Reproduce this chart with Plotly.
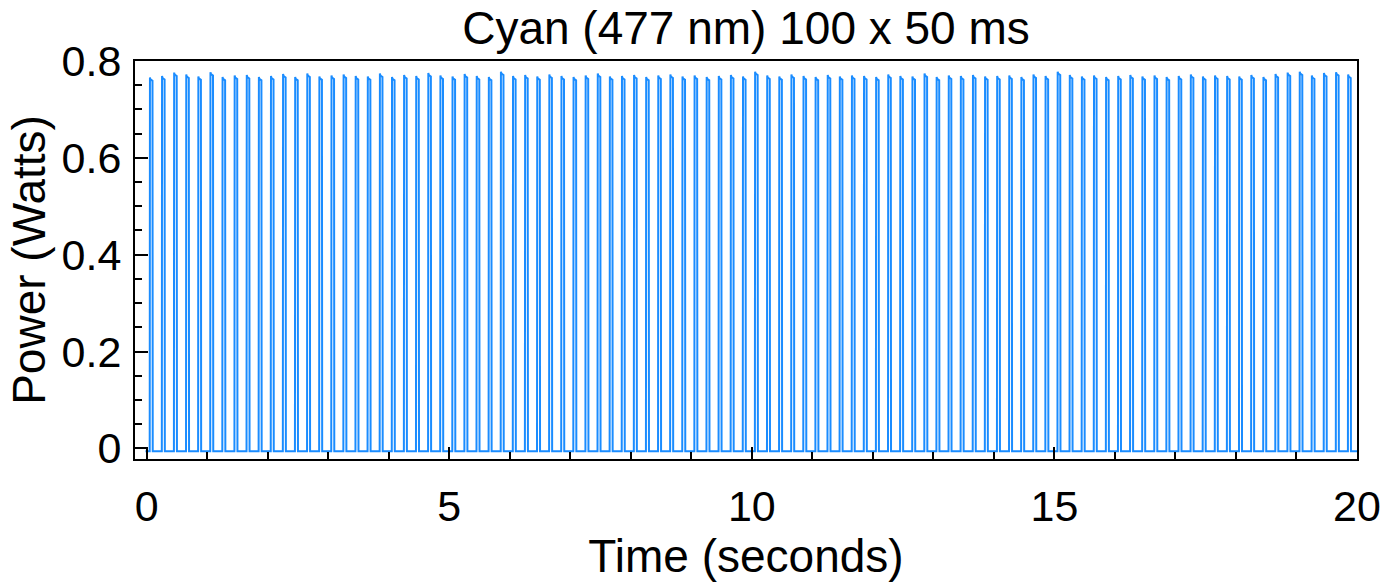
import numpy as np
import plotly.graph_objects as go

# Pulse onset times (seconds)
onsets = [0.05, 0.25, 0.45, 0.65, 0.85, 1.05, 1.25, 1.45, 1.65, 1.85,
          2.05, 2.25, 2.45, 2.65, 2.85, 3.05, 3.25, 3.45, 3.65, 3.85,
          4.05, 4.25, 4.45, 4.65, 4.85, 5.05, 5.25, 5.45, 5.65, 5.85,
          6.05, 6.25, 6.45, 6.65, 6.85, 7.05, 7.25, 7.45, 7.65, 7.85,
          8.05, 8.25, 8.45, 8.65, 8.85, 9.05, 9.25, 9.45, 9.65, 9.85,
          10.05, 10.25, 10.45, 10.65, 10.85, 11.05, 11.25, 11.45, 11.65, 11.85,
          12.05, 12.25, 12.45, 12.65, 12.85, 13.05, 13.25, 13.45, 13.65, 13.85,
          14.05, 14.25, 14.45, 14.65, 14.85, 15.05, 15.25, 15.45, 15.65, 15.85,
          16.05, 16.25, 16.45, 16.65, 16.85, 17.05, 17.25, 17.45, 17.65, 17.85,
          18.05, 18.25, 18.45, 18.65, 18.85, 19.05, 19.25, 19.45, 19.65, 19.85]

# Peak power of each pulse (Watts)
peaks = [0.762, 0.765, 0.772, 0.768, 0.764, 0.773, 0.763, 0.766, 0.767, 0.763,
         0.765, 0.769, 0.763, 0.770, 0.764, 0.766, 0.768, 0.765, 0.764, 0.770,
         0.763, 0.767, 0.765, 0.771, 0.766, 0.764, 0.769, 0.765, 0.763, 0.774,
         0.765, 0.767, 0.764, 0.768, 0.765, 0.763, 0.766, 0.770, 0.764, 0.765,
         0.767, 0.763, 0.766, 0.768, 0.764, 0.766, 0.763, 0.765, 0.767, 0.764,
         0.774, 0.766, 0.764, 0.768, 0.765, 0.763, 0.767, 0.764, 0.766, 0.765,
         0.763, 0.768, 0.765, 0.764, 0.770, 0.763, 0.766, 0.765, 0.767, 0.764,
         0.765, 0.766, 0.763, 0.768, 0.765, 0.774, 0.767, 0.764, 0.766, 0.763,
         0.765, 0.767, 0.764, 0.766, 0.763, 0.765, 0.768, 0.764, 0.766, 0.765,
         0.764, 0.767, 0.763, 0.769, 0.772, 0.774, 0.766, 0.771, 0.773, 0.768]

baseline = -0.006
pulse_ms = 50

x_ticks = [0, 5, 10, 15, 20]
y_ticks = [0, 0.2, 0.4, 0.6, 0.8]
y_tick_text = ["0", "0.2", "0.4", "0.6", "0.8"]

# Build the square-wave trace from onsets & peaks
w = pulse_ms / 1000.0
xs, ys = [-0.02], [baseline]
for t0, p in zip(onsets, peaks):
    xs += [t0, t0 + 0.004, t0 + 0.012, t0 + w - 0.004, t0 + w]
    ys += [baseline, p + 0.004, p, p - 0.003, baseline]
xs.append(20.0)
ys.append(baseline)

fig = go.Figure()
fig.add_trace(go.Scatter(x=xs, y=ys, mode="lines",
                         line=dict(color="#1a8cff", width=2),
                         hoverinfo="skip", showlegend=False))

font_family = "Liberation Sans, Arial, Helvetica, sans-serif"

fig.update_layout(
    width=1398, height=582,
    margin=dict(l=135, r=41, t=61, b=118),
    paper_bgcolor="white", plot_bgcolor="white",
    font=dict(family=font_family, color="black", size=42),
    title=dict(text="Cyan (477 nm) 100 x 50 ms", x=0.5, xanchor="center",
               y=0.952, yanchor="middle", xref="paper",
               font=dict(size=46, family=font_family, color="black")),
    showlegend=False,
)

fig.update_xaxes(
    range=[-0.193, 20.0], tickvals=x_ticks, ticktext=[str(v) for v in x_ticks],
    ticks="inside", ticklen=12, tickwidth=2, tickcolor="black",
    minor=dict(dtick=1, tick0=0, ticks="inside", ticklen=7, tickwidth=1.5, tickcolor="black"),
    showline=True, linewidth=2, linecolor="black", mirror=True,
    showgrid=False, zeroline=False,
    tickfont=dict(size=43), ticklabelstandoff=8,
    title=dict(text="Time (seconds)", font=dict(size=46), standoff=8),
)
fig.update_yaxes(
    range=[-0.022, 0.8], tickvals=y_ticks, ticktext=y_tick_text,
    ticks="inside", ticklen=13, tickwidth=2, tickcolor="black",
    minor=dict(dtick=0.05, tick0=0, ticks="inside", ticklen=6.5, tickwidth=1.5, tickcolor="black"),
    showline=True, linewidth=2, linecolor="black", mirror=True,
    showgrid=False, zeroline=False,
    tickfont=dict(size=43), ticklabelstandoff=3,
    title=dict(text="Power (Watts)", font=dict(size=46), standoff=2),
)

fig.write_html("out.html")
